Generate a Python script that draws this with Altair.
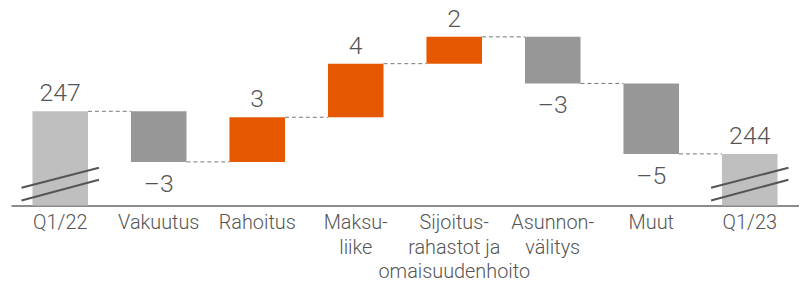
import altair as alt
import pandas as pd

# ---- data ----
categories = ["Q1/22", "Vakuutus", "Rahoitus", "Maksu-|liike",
              "Sijoitus-|rahastot ja|omaisuudenhoito", "Asunnon-|välitys",
              "Muut", "Q1/23"]
amounts = [247.2, -3.4, 3.0, 3.6, 1.8, -3.13, -4.73, 244.33]
kinds = ["total", "delta", "delta", "delta", "delta", "delta", "delta", "total"]
value_labels = ["247", "–3", "3", "4", "2", "–3", "–5", "244"]

BASE = 240.87   # value at the (broken) baseline
TOP = 254.07

rows = []
run = None
for c, a, k, lab in zip(categories, amounts, kinds, value_labels):
    if k == "total":
        y0, y1, kind = BASE, a, "total"
        run = a
    else:
        y0 = run
        y1 = run + a
        run = y1
        kind = "pos" if a > 0 else "neg"
    rows.append(dict(cat=c, y0=y0, y1=y1, kind=kind, label=lab,
                     top=max(y0, y1), bottom=min(y0, y1), up=(kind != "neg")))
df = pd.DataFrame(rows)

conn = pd.DataFrame([dict(cat=categories[i], nxt=categories[i + 1], level=rows[i]["y1"])
                     for i in range(len(categories) - 1)])
breaks = pd.DataFrame([dict(cat=c) for c, k in zip(categories, kinds) if k == "total"])

FONT = "Roboto"
xscale = alt.Scale(paddingInner=0.436, paddingOuter=0.218)
yscale = alt.Scale(domain=[BASE, TOP], nice=False, zero=False)


def X(field="cat", **kw):
    return alt.X(f"{field}:N", sort=categories, scale=xscale, title=None, **kw)


bars = alt.Chart(df).mark_bar().encode(
    x=X(),
    y=alt.Y("y0:Q", scale=yscale, axis=None),
    y2="y1:Q",
    color=alt.Color("kind:N",
                    scale=alt.Scale(domain=["total", "neg", "pos"],
                                    range=["#bfbfbf", "#979797", "#e65800"]),
                    legend=None),
)

connectors = alt.Chart(conn).mark_rule(strokeDash=[4, 3], color="#777777", strokeWidth=1).encode(
    x=X(bandPosition=1),
    x2=alt.X2("nxt:N", bandPosition=0),
    y=alt.Y("level:Q", scale=yscale, axis=None),
)

break1 = alt.Chart(breaks).mark_rule(xOffset=-39, x2Offset=39, color="#555555", strokeWidth=2).encode(
    x=X(bandPosition=0.5),
    x2=alt.X2("cat:N", bandPosition=0.5),
    y=alt.value(180), y2=alt.value(160),
)
break2 = alt.Chart(breaks).mark_rule(xOffset=-39, x2Offset=39, color="#555555", strokeWidth=2).encode(
    x=X(bandPosition=0.5),
    x2=alt.X2("cat:N", bandPosition=0.5),
    y=alt.value(193), y2=alt.value(172),
)

text_up = alt.Chart(df).transform_filter("datum.up").mark_text(
    baseline="alphabetic", dy=-10, font=FONT, fontWeight=300, fontSize=25, color="#555555"
).encode(x=X(), y=alt.Y("top:Q", scale=yscale, axis=None), text="label:N")

text_down = alt.Chart(df).transform_filter("!datum.up").mark_text(
    baseline="alphabetic", dy=30, font=FONT, fontWeight=300, fontSize=25, color="#555555"
).encode(x=X(), y=alt.Y("bottom:Q", scale=yscale, axis=None), text="label:N")

chart = alt.layer(connectors, bars, break1, break2, text_up, text_down).properties(
    width=794, height=198,
    autosize=alt.AutoSizeParams(type="none"),
    padding={"left": 3, "top": 0, "right": 0, "bottom": 75},
).configure_view(stroke=None).configure_axisX(
    labelExpr="split(datum.label, '|')",
    labelAngle=0, labelFont=FONT, labelFontSize=20, labelFontWeight=300,
    labelColor="#555555", labelLineHeight=25, labelPadding=7,
    ticks=False, tickSize=0, grid=False, labelOverlap=False, labelFlush=False,
    labelBound=False,
    domainColor="#666666", domainWidth=1.5,
)

chart.save("out.html", embed_options={"renderer": "svg", "actions": False})
